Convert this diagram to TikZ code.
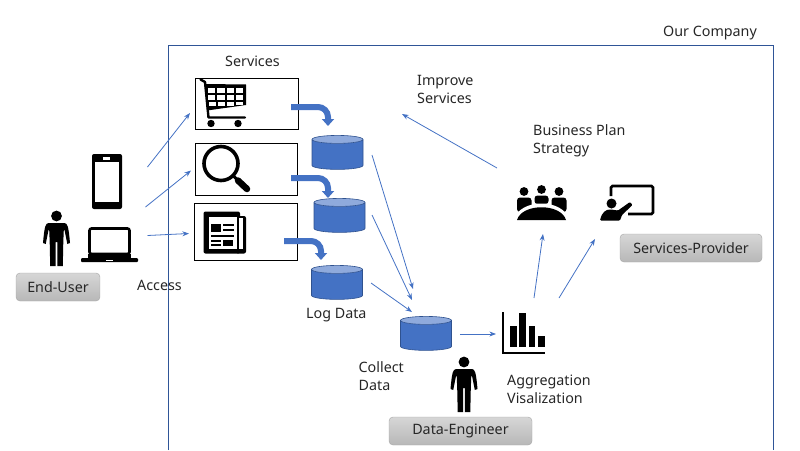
\documentclass[tikz,border=0pt]{standalone}
\usepackage{fontspec}
\setmainfont{Noto Sans}
\usetikzlibrary{arrows.meta,shapes.geometric}
\definecolor{accent}{HTML}{4472C4}
\definecolor{framecol}{HTML}{2F5597}
\definecolor{dbtop}{HTML}{8FAADC}
\definecolor{dbedge}{HTML}{2F528F}
\tikzset{
  txt/.style={font=\fontsize{14.3}{18}\selectfont, text=black!85, align=left, inner sep=0pt},
  servicebox/.style={draw, line width=0.9pt, minimum width=103pt, inner sep=0pt},
  logdb/.style={shape=cylinder, shape border rotate=90, shape aspect=0.5, draw=dbedge, line width=0.6pt,
    cylinder uses custom fill, cylinder body fill=accent, cylinder end fill=dbtop,
    minimum width=51pt, minimum height=34pt, inner xsep=8pt, inner ysep=8pt},
  rolebox/.style={draw=black!35, rounded corners=4pt, top color=black!16, bottom color=black!28,
    minimum height=28pt, font=\fontsize{14.3}{16}\selectfont, text=black!85, inner sep=0pt},
  flow/.style={->, accent, line width=0.8pt},
  bent/.style={-{Triangle[width=12pt,length=7pt]}, accent, line width=6pt, rounded corners=10pt},
  pics/person/.style={code={
    \fill (0,-50) circle (5.4);
    \fill (-8,-43) -- (8,-43) .. controls (11,-42.5) and (12,-40) .. (13.5,-23)
      -- (10.8,-22) -- (8,-36) -- (7.3,-36) -- (6.8,-24) -- (6.3,0) -- (0.8,0) -- (0.8,-24) -- (-0.8,-24)
      -- (-0.8,0) -- (-6.3,0) -- (-6.8,-24) -- (-7.3,-36) -- (-8,-36) -- (-10.8,-22) -- (-13.5,-23)
      .. controls (-12,-40) and (-11,-42.5) .. (-8,-43) -- cycle;
  }},
}
\begin{document}
\begin{tikzpicture}[x=1pt, y=-1pt, >=Stealth]
  \useasboundingbox (0,0) rectangle (800,450);
  \draw[framecol, line width=0.8pt] (168,450) -- (168,45) -- (773,45) -- (773,450);

  % services
  \node[servicebox, minimum height=51pt] (cart) at (247,103.5) {};
  \node[servicebox, minimum width=102pt, minimum height=52pt] (search) at (246.5,169) {};
  \node[servicebox, minimum height=57pt] (news) at (246,231.5) {};

  % log stores
  \node[logdb] (db1) at (337.5,156) {};
  \node[logdb] (db2) at (339.5,219) {};
  \node[logdb] (db3) at (337,286) {};
  \node[logdb] (db4) at (426,337) {};

  % cart
  \draw[line width=2.4pt, line cap=round, line join=round] (200.5,79.5) -- (205,82) -- (208.5,117.5) -- (245,117.5);
  \fill (205,84) -- (246,84.5) -- (246,105) -- (207,110.5) -- cycle;
  \foreach \cx in {207.5,217,226.5,235.5} {
    \fill[white] (\cx,87.5) rectangle +(7.5,5);
    \fill[white] (\cx,94.5) rectangle +(7.5,5);
  }
  \foreach \cx in {209,218,227} \fill[white] (\cx,101.5) rectangle +(7,4.5);
  \fill[white] (236,101.5) rectangle +(7,3.5);
  \fill (211,123.5) circle (3.7) (238,123.5) circle (3.7);

  % magnifier
  \draw[line width=3.6pt] (221,163.5) circle (17);
  \draw[line width=3pt] (233,175.5) -- (238,180.5);
  \draw[line width=6.5pt, line cap=round] (238,180.5) -- (247,189);

  % newspaper
  \fill[rounded corners=2pt] (203.5,211.5) rectangle (240,253.5);
  \fill[rounded corners=2pt] (236,216) rectangle (246,253.5);
  \fill[white] (208.5,216.5) rectangle (236.5,248.5);
  \fill[white] (238.5,218) rectangle (243,249);
  \fill (211,224) rectangle (220.5,232);
  \fill (223,224) rectangle (233.5,226);
  \fill (223,229) rectangle (233.5,231);
  \fill (211,235) rectangle (233.5,237);
  \fill (211,239.5) rectangle (220.5,241.5);
  \fill (211,244) rectangle (220.5,246);
  \fill (223,239.5) rectangle (232.5,246);

  % phone and laptop
  \fill[rounded corners=2pt] (92,154) rectangle (122,209);
  \fill[white] (95,161.5) rectangle (118.5,202);
  \fill[white] (103,157) rectangle (110,159.5);
  \draw[line width=2.6pt, rounded corners=2pt] (89.5,228.5) rectangle (129.5,254);
  \fill[rounded corners=1pt] (81,258) rectangle (138,262);
  \fill (88,254) rectangle (131,258);
  \fill[white] (106,260) rectangle (113,261);

  % people
  \pic at (56.5,266) {person};
  \pic at (464,412) {person};

  % meeting
  \fill (524,191.5) circle (4.4) (541.5,189.5) circle (4.4) (559,191.5) circle (4.4);
  \fill[rounded corners=3pt] (517,212) -- (517,197.5) -- (531.5,197.5) -- (531.5,212) -- cycle;
  \fill[rounded corners=3pt] (534.5,204) -- (534.5,195.5) -- (548.5,195.5) -- (548.5,204) -- cycle;
  \fill[rounded corners=3pt] (551.5,212) -- (551.5,197.5) -- (566.5,197.5) -- (566.5,212) -- cycle;
  \fill[white] (514,220) .. controls (519,198) and (564,198) .. (569,220) -- cycle;
  \fill (517,220) .. controls (522,203) and (561,203) .. (566,220) -- cycle;

  % presenter
  \draw[line width=2.8pt, rounded corners=1.5pt] (611,196) -- (611,186) -- (653,186) -- (653,214) -- (628,214);
  \fill (611.5,203.5) circle (5);
  \fill[rounded corners=1pt] (600,220.5) .. controls (602,212) and (606,209.5) .. (611,209.5) -- (618,210.5)
    -- (630,202) -- (632.5,205) -- (622,215) -- (620,220.5) -- cycle;

  % chart
  \draw[line width=2.4pt] (503.2,312) -- (503.2,353) -- (545,353);
  \fill (510,325.5) rectangle (516.8,346.7);
  \fill (519,312.5) rectangle (526,346.7);
  \fill (528.7,325.5) rectangle (535.3,346.7);
  \fill (538,335.7) rectangle (544.7,346.7);
  \coordinate (chartin) at (496,334);

  % free ends of the connectors
  \coordinate (phoneout) at (147.5,167);
  \coordinate (tabletout) at (145.5,207);
  \coordinate (laptopout) at (147.5,235.5);
  \coordinate (cartin) at (190,113);
  \coordinate (searchin) at (191,170.5);
  \coordinate (newsin) at (189,233.5);
  \coordinate (dbout1) at (372,155);
  \coordinate (dbout2) at (372,215);
  \coordinate (dbout3) at (371,283);
  \coordinate (dbin1) at (413,289);
  \coordinate (dbin2) at (412,300);
  \coordinate (dbin3) at (412,312);
  \coordinate (meetin) at (543,234);
  \coordinate (meetout) at (497,168);
  \coordinate (improve) at (402,114);
  \coordinate (boardin) at (595,239);
  \coordinate (chartout1) at (534,298);
  \coordinate (chartout2) at (559,298);

  \draw[flow] (phoneout) -- (cartin);
  \draw[flow] (tabletout) -- (searchin);
  \draw[flow] (laptopout) -- (newsin);
  \draw[flow] (dbout1) -- (dbin1);
  \draw[flow] (dbout2) -- (dbin2);
  \draw[flow] (dbout3) -- (dbin3);
  \draw[flow, shorten <=8pt] (db4.east |- chartin) -- (chartin);
  \draw[flow] (chartout1) -- (meetin);
  \draw[flow] (chartout2) -- (boardin);
  \draw[flow] (meetout) -- (improve);

  \coordinate (bend1a) at (291,107);
  \coordinate (bend1b) at (328,126);
  \coordinate (bend2a) at (291,178);
  \coordinate (bend2b) at (328,198);
  \coordinate (bend3a) at (284,241);
  \coordinate (bend3b) at (321,260);
  \draw[bent] (bend1a) -| (bend1b);
  \draw[bent] (bend2a) -| (bend2b);
  \draw[bent] (bend3a) -| (bend3b);

  % labels
  \node[txt, anchor=west] (company) at (663,33) {Our Company};
  \node[txt, anchor=west] (services) at (225,61) {Services};
  \node[txt, anchor=north west] (improvetxt) at (417,75) {Improve\\Services};
  \node[txt, anchor=north west] (plan) at (533,124) {Business Plan\\Strategy};
  \node[txt, anchor=west] (access) at (137,285) {Access};
  \node[txt, anchor=west] (logdata) at (306,315) {Log Data};
  \node[txt, anchor=north west] (collect) at (358.5,361) {Collect\\Data};
  \node[txt, anchor=north west] (aggr) at (507,375) {Aggregation\\Visalization};

  \node[rolebox, minimum width=84pt] (enduser) at (58,287) {End-User};
  \node[rolebox, minimum width=142pt] (provider) at (691,248) {Services-Provider};
  \node[rolebox, minimum width=143pt] (engineer) at (460.5,431) {Data-Engineer};
\end{tikzpicture}
\end{document}
